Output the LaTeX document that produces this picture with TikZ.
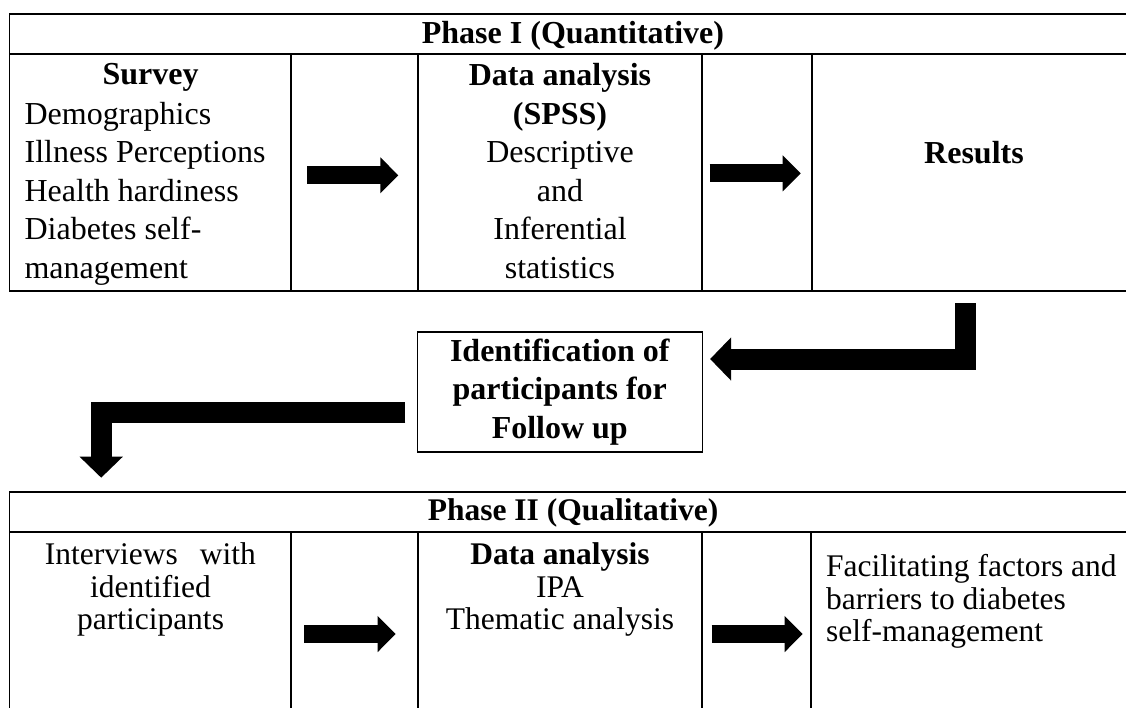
\documentclass[tikz,border=0pt]{standalone}
\usepackage{fontspec}
\setmainfont{Liberation Serif}
\usetikzlibrary{arrows.meta}
\newcommand\bigrow{\fontsize{32}{38.5}\selectfont}
\newcommand\lowrow{\fontsize{31.5}{32.5}\selectfont}
\begin{document}
\begin{tikzpicture}[x=1pt,y=-1pt,line join=miter,
	grid/.style={line width=1.2pt},
	txt/.style={inner sep=0pt,anchor=north,align=center,font=\bigrow},
	lowtxt/.style={inner sep=0pt,anchor=north,align=center,font=\lowrow},
	shaft/.style={line width=18pt,-{Triangle[length=18pt,width=35pt]}},
	elbow/.style={line width=21pt,-{Triangle[length=21pt,width=42pt]}}]
		\useasboundingbox (0,0) rectangle (1126,707);
		% Phase I table
		\draw[grid] (9.7,14) rectangle (1136,291);
		\draw[grid] (9.7,54)--(1136,54);
		\foreach \c in {291,418,702,812} \draw[grid] (\c,54)--(\c,291);
		\node[anchor=base,inner sep=0pt,font=\bigrow\bfseries] (phaseone) at (573,43.5) {Phase I (Quantitative)};
		\node[txt] (survey) at (150.5,63.3) {\textbf{Survey}};
		\node[txt,anchor=north west,align=left] (measures) at (24.4,101.6) {Demographics\\Illness Perceptions\\Health hardiness\\Diabetes self-\\management};
		\node[txt] (spss) at (560,63.3) {\textbf{Data analysis}\\\textbf{(SPSS)}\\Descriptive\\and\\Inferential\\statistics};
		\node[txt] (results) at (974,141.3) {\textbf{Results}};
		\coordinate (q1) at (307,175.3);
		\coordinate (q2) at (398.3,175.3);
		\coordinate (q3) at (709.5,173.4);
		\coordinate (q4) at (800.7,173.4);
		\draw[shaft] (q1)--(q2);
		\draw[shaft] (q3)--(q4);
		% follow up box
		\node[draw,line width=1.2pt,minimum width=285pt,minimum height=120pt,inner sep=0pt,align=center,font=\fontsize{32}{38.2}\selectfont\bfseries] (ident) at (559.8,392) {Identification of\\participants for\\Follow up};
		\coordinate (r1) at (965.5,303);
		\coordinate (r2) at ([xshift=7.2pt]ident.east|-0,359);
		\draw[elbow] (r1)|-(r2);
		\coordinate (l1) at ([xshift=-11.3pt]ident.west|-0,412.2);
		\coordinate (l2) at (101.2,477.7);
		\draw[elbow] (l1)-|(l2);
		% Phase II table
		\draw[grid] (1136,492)--(9.7,492)--(9.7,720);
		\draw[grid] (9.7,532)--(1136,532);
		\foreach \c in {291,418,702,811} \draw[grid] (\c,532)--(\c,720);
		\node[anchor=base,inner sep=0pt,font=\lowrow\bfseries] (phasetwo) at (573,520) {Phase II (Qualitative)};
		\node[lowtxt] (interviews) at (150.5,542.5) {Interviews\hspace{0.7em}with\\identified\\participants};
		\node[lowtxt] (ipa) at (560,542.5) {\textbf{Data analysis}\\IPA\\Thematic analysis};
		\node[lowtxt,anchor=north west,align=left] (barriers) at (826,554.5) {Facilitating factors and\\barriers to diabetes\\self-management};
		\coordinate (s1) at (304,634);
		\coordinate (s2) at (395.7,634);
		\coordinate (s3) at (711.7,634);
		\coordinate (s4) at (802.7,634);
		\draw[shaft] (s1)--(s2);
		\draw[shaft] (s3)--(s4);
\end{tikzpicture}
\end{document}
